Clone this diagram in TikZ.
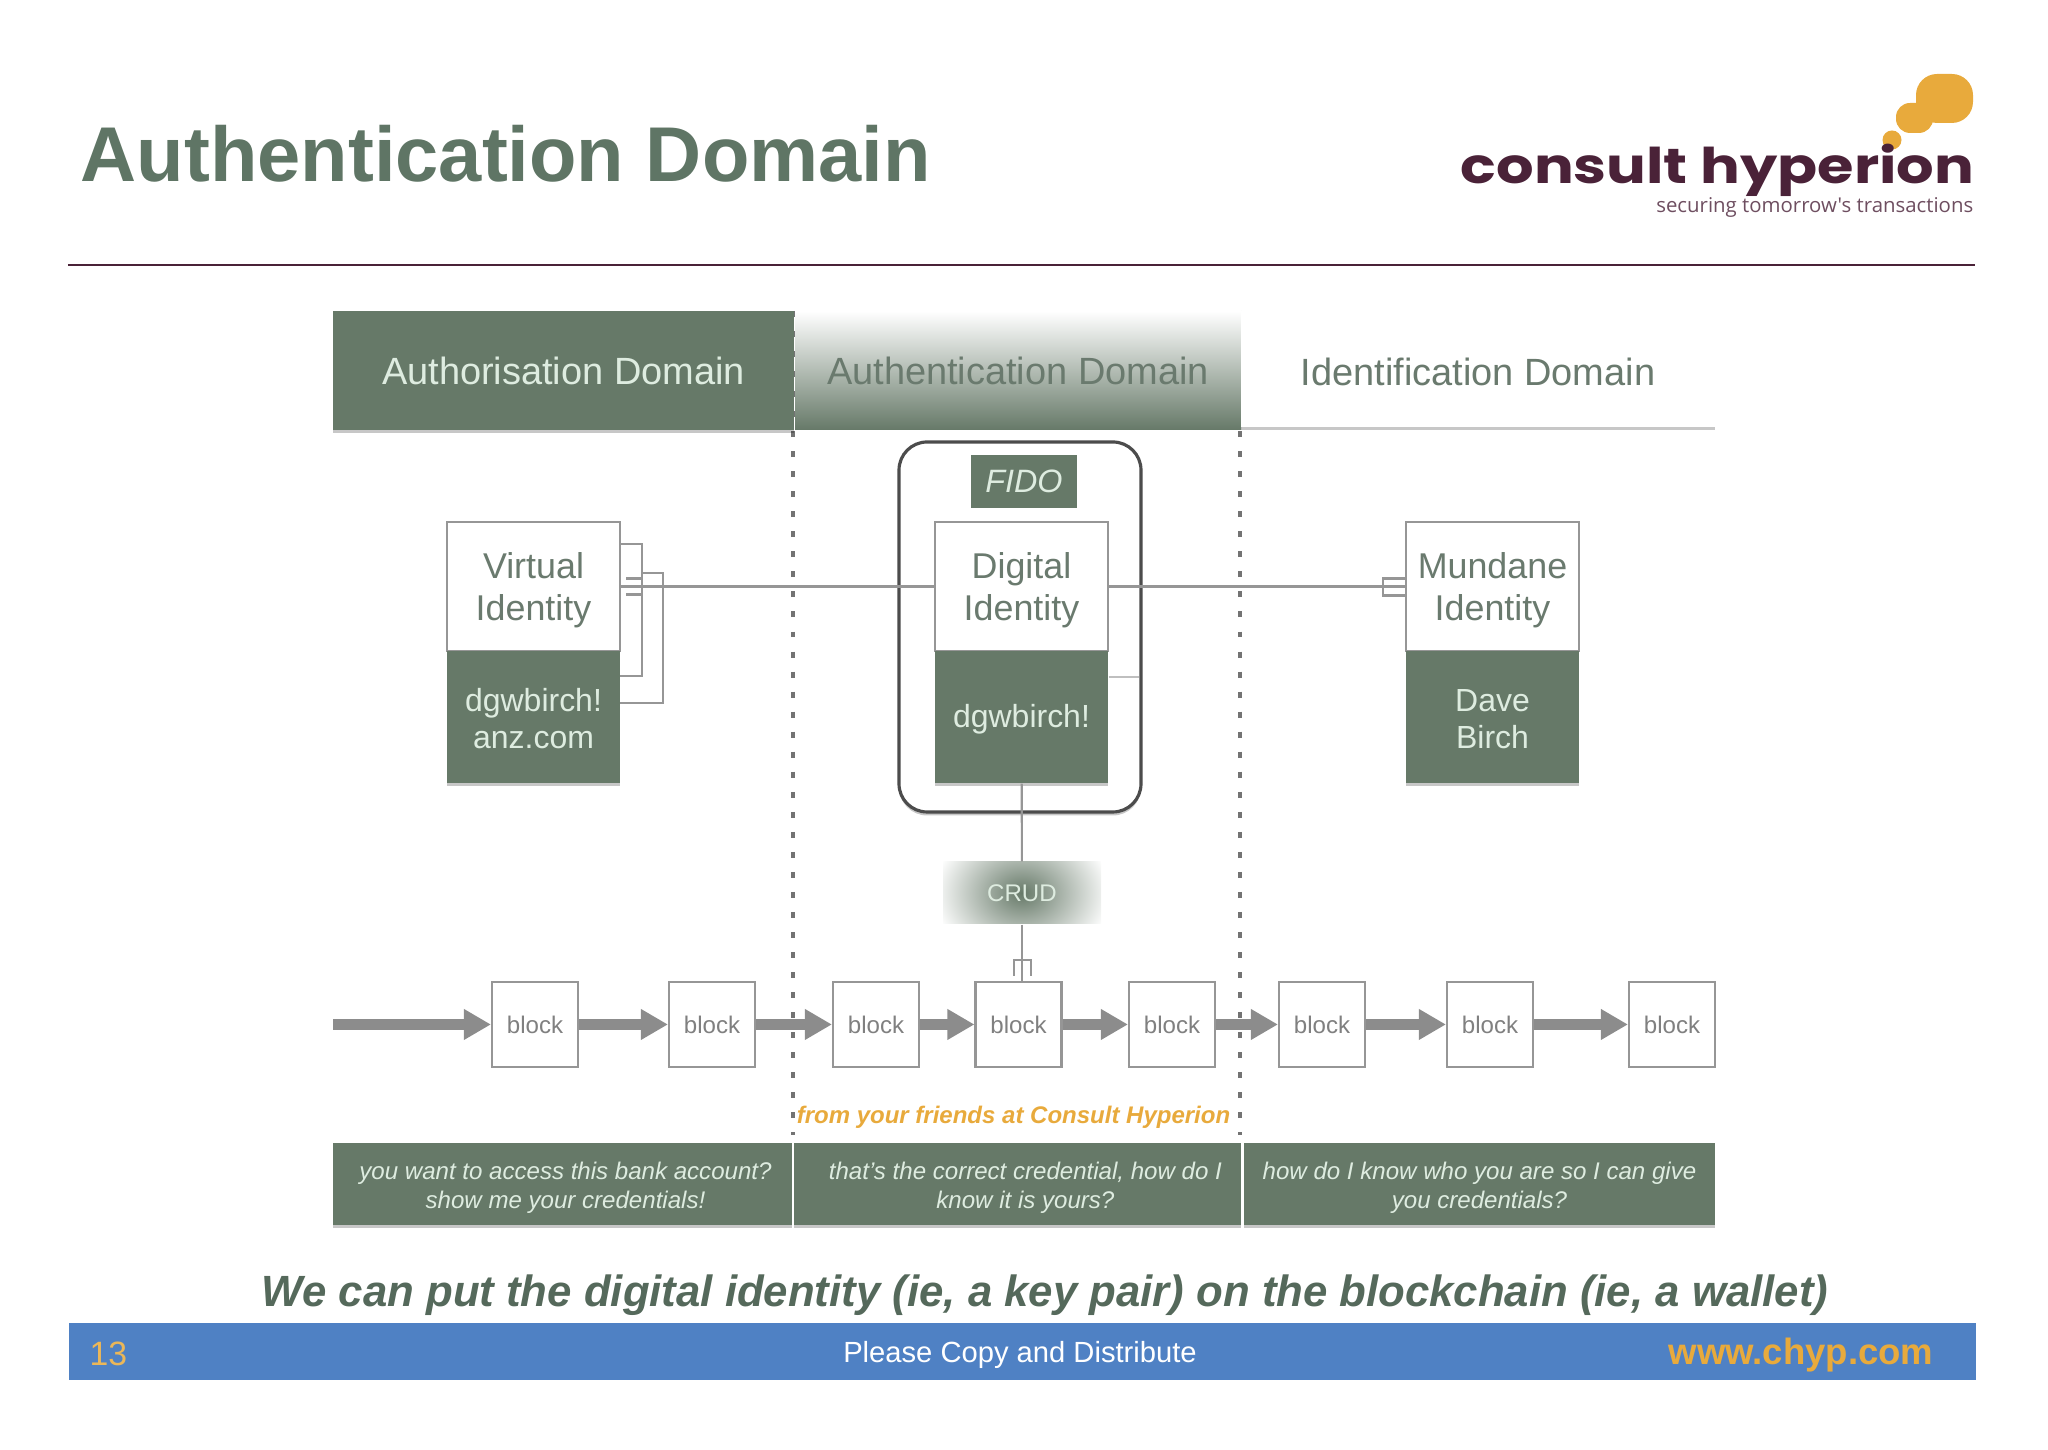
\documentclass[tikz,border=0pt]{standalone}
\usepackage{fontspec}
\setmainfont{Liberation Sans}
\newfontfamily\logofont{Poppins}
\newfontfamily\tagfont{Open Sans}
\usetikzlibrary{arrows.meta,calc,shadows}
\definecolor{chGreen}{RGB}{102,121,104}
\definecolor{chTitle}{RGB}{95,117,101}
\definecolor{chText}{RGB}{106,122,110}
\definecolor{chMint}{RGB}{222,236,224}
\definecolor{chGold}{RGB}{232,170,60}
\definecolor{chPlum}{RGB}{74,34,56}
\definecolor{chBlue}{RGB}{79,129,196}
\definecolor{chLine}{RGB}{150,150,150}
\newcommand{\fs}[2]{\fontsize{#1}{#2}\selectfont}
\newcommand{\lift}[1]{\rule{0pt}{#1}}

\begin{document}
\begin{tikzpicture}[
  softshadow/.style={drop shadow={shadow xshift=0pt, shadow yshift=-1pt, opacity=0.22, fill=black}},
  head/.style={minimum height=1.19cm, inner sep=0pt, font=\fs{10.8}{13}},
  idtop/.style={draw=chLine, line width=0.6pt, fill=white, minimum width=1.73cm, minimum height=1.29cm, inner sep=0pt, align=center, text=chText, font=\fs{10.2}{12}},
  idbot/.style={fill=chGreen, minimum width=1.73cm, minimum height=1.32cm, inner sep=0pt, align=center, text=chMint, font=\fs{9.1}{10.4}, softshadow},
  blockbox/.style={draw=chLine, line width=0.6pt, fill=white, minimum width=0.86cm, minimum height=0.85cm, inner sep=0pt, text=black!50, font=\fs{6.85}{8}},
  blockarr/.style={-{Triangle[length=2.7mm, width=2.9mm]}, line width=1.1mm, color=black!45},
  link/.style={draw=chLine, line width=0.6pt},
  note/.style={fill=chGreen, minimum height=0.82cm, inner sep=0pt, align=center, text=chMint, font=\fs{6.85}{8.2}\itshape, softshadow},
  divider/.style={line width=1.4pt, color=black!55, dash pattern=on 1.7pt off 4pt},
]
\useasboundingbox (0,0) rectangle (20.48,14.5);

% ======================= title and logo =======================
\node[anchor=base west, inner sep=0pt, text=chTitle, font=\fs{22.1}{26}\bfseries] (title) at (0.8,12.68) {Authentication Domain};
\node[fill=chGold, rounded corners=6pt, minimum width=0.57cm, minimum height=0.49cm, inner sep=0pt] (bigdot) at (19.445,13.515) {};
\node[fill=chGold, rounded corners=4pt, minimum width=0.37cm, minimum height=0.30cm, inner sep=0pt] (middot) at (19.145,13.32) {};
\node[fill=chGold, circle, minimum size=0.19cm, inner sep=0pt] (smalldot) at (18.92,13.1) {};
\node[anchor=base east, inner sep=0pt, text=chPlum, xscale=1.2, font=\fs{14}{17}\logofont\bfseries] (logo) at (19.75,12.66) {consult hyperion};
\node[anchor=base east, inner sep=0pt, text=chPlum!80, font=\fs{5.8}{7}\tagfont] (tagline) at (19.74,12.37) {securing tomorrow's transactions};
\coordinate (ruleL) at (0.68,11.85);
\coordinate (ruleR) at (19.75,11.85);
\draw[chPlum, line width=0.6pt] (ruleL) -- (ruleR);

% ======================= domain dividers and headers =======================
\coordinate (divAtop) at (7.93,11.39);
\coordinate (divAbot) at (7.93,3.15);
\coordinate (divBtop) at (12.4,11.39);
\coordinate (divBbot) at (12.4,3.15);
\draw[divider] (divAtop) -- (divAbot);
\draw[divider] (divBtop) -- (divBbot);
\node[head, fill=chGreen, text=chMint, minimum width=4.61cm, softshadow] (hauthz) at (5.635,10.795) {Authorisation Domain};
\node[head, top color=white, bottom color=chGreen, text=chText, minimum width=4.46cm] (hauthn) at (10.18,10.795) {Authentication Domain};
\node[head, fill=white, text=chText, minimum width=4.74cm, minimum height=1.16cm, softshadow] (hident) at (14.78,10.81) {\lift{9.4pt}Identification Domain};

% ======================= identities =======================
\node[draw=black!70, line width=0.9pt, fill=white, rounded corners=8pt, minimum width=2.42cm, minimum height=3.7cm, softshadow] (fido) at (10.2,8.23) {};

% one identity: #1 id, #2 x coord, #3 top label, #4 bottom label
\newcommand{\idcard}[4]{%
  \node[idtop] (#1top) at (#2,8.635) {\lift{9.7pt}#3};
  \node[idbot] (#1bot) at (#2,7.33)  {\lift{7.6pt}#4};
}

\draw[link] (6.2,9.06) -- (6.42,9.06) -- (6.42,7.74) -- (6.2,7.74);
\draw[link] (6.42,8.77) -- (6.63,8.77) -- (6.63,7.47) -- (6.2,7.47);
\idcard{v}{5.335}{Virtual\\Identity}{dgwbirch!\\anz.com}
\idcard{d}{10.215}{Digital\\Identity}{dgwbirch!}
\idcard{m}{14.925}{Mundane\\Identity}{Dave\\Birch}
\node[fill=chGreen, minimum width=1.06cm, minimum height=0.53cm, inner sep=0pt, text=chMint, font=\fs{9.2}{11}\itshape] (fidotag) at (10.24,9.685) {FIDO};
\draw[black!25, line width=0.5pt] ($(dbot.north east)+(0,-0.27)$) -- ++(0.3,0);

\draw[link] (vtop) -- (dtop);
\draw[link] (dtop) -- (mtop);
\draw[link] ($(vtop.east)+(0.05,0.08)$) -- ++(0.17,0);
\draw[link] ($(vtop.east)+(0.05,-0.08)$) -- ++(0.17,0);
\draw[link] ($(mtop.west)+(0,0.08)$) -- ++(-0.22,0) -- ++(0,-0.17) -- ++(0.22,0);

% ======================= blocks =======================
\node[minimum width=1.58cm, minimum height=0.62cm, inner sep=0pt, text=chMint, font=\fs{6.85}{8},
  path picture={\shade[inner color=chGreen, outer color=white] (path picture bounding box.center) ellipse (0.9 and 0.7);}] (crud) at (10.22,5.57) {CRUD};
\foreach \id/\bx in {b1/5.35,b2/7.12,b3/8.76,b4/10.185,b5/11.72,b6/13.22,b7/14.9,b8/16.72}
  \node[blockbox] (\id) at (\bx,4.255) {block};

\coordinate (chainstart) at (3.33,4.255);
\draw[blockarr] (chainstart) -- (b1);
\foreach \a/\b in {b1/b2,b2/b3,b3/b4,b4/b5,b5/b6,b6/b7,b7/b8}
  \draw[blockarr] (\a) -- (\b);

\draw[link] (dbot) -- (crud);
\coordinate (crudfoot) at (crud |- b4.north);
\draw[link] (crud) -- (crudfoot);
\draw[link] ($(crudfoot)+(-0.08,0.05)$) -- ++(0,0.16) -- ++(0.17,0) -- ++(0,-0.16);

% ======================= notes =======================
\node[text=chGold, font=\fs{6.83}{8}\bfseries\itshape] (friends) at (10.135,3.33) {from your friends at Consult Hyperion};
\node[note, minimum width=4.59cm] (nauthz) at (5.625,2.66) {\lift{7.3pt}\hspace*{1.7pt}you want to access this bank account?\\\hspace*{1.7pt}show me your credentials!};
\node[note, minimum width=4.47cm] (nauthn) at (10.175,2.66) {\lift{7.3pt}\hspace*{4.5pt}that's the correct credential, how do I\\\hspace*{4.5pt}know it is yours?};
\node[note, minimum width=4.71cm] (nident) at (14.795,2.66) {\lift{7.3pt}how do I know who you are so I can give\\you credentials?};

% ======================= caption and footer =======================
\node[text=chTitle!90!black, font=\fs{12.44}{14}\bfseries\itshape] (caption) at (10.45,1.55) {We can put the digital identity (ie, a key pair) on the blockchain (ie, a wallet)};
\node[fill=chBlue, minimum width=19.07cm, minimum height=0.57cm, inner sep=0pt] (band) at (10.225,0.985) {};
\node[anchor=west, inner sep=0pt, text=chGold!85!white, font=\fs{9.6}{11}] (pageno) at (0.89,0.96) {13};
\node[inner sep=0pt, text=white, font=\fs{8.3}{10}] (copy) at (10.2,0.95) {Please Copy and Distribute};
\node[anchor=east, inner sep=0pt, text=chGold, font=\fs{10.4}{12}\bfseries] (web) at (19.34,0.95) {www.chyp.com};

\end{tikzpicture}
\end{document}
